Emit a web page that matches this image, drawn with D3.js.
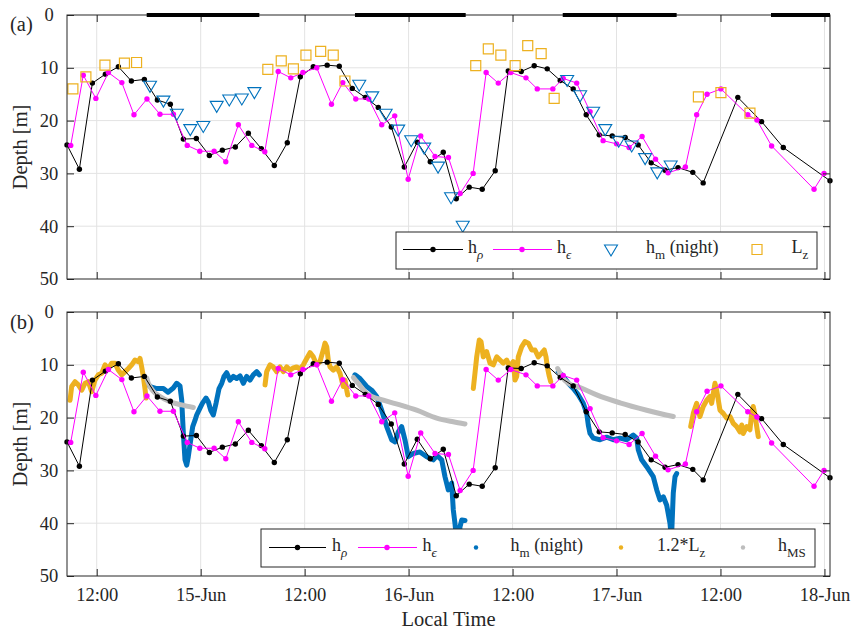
<!DOCTYPE html>
<html>
<head>
<meta charset="utf-8">
<script src="https://cdn.jsdelivr.net/npm/d3@7"></script>
<style>
  body { margin: 0; background: #fff; }
  svg text { font-family: "Liberation Serif", "Times New Roman", serif; fill: #262626; }
</style>
</head>
<body>
<svg id="chart" width="859" height="629"></svg>
<script>
// All times are hours after 14-Jun 00:00 local time; depths in metres.

// Density-based mixed-layer depth h_rho
const hRho = [[8.57,24.6],[10.0,29.2],[11.5,12.9],[13.0,11.2],[14.5,9.8],[16.0,12.5],[17.5,12.2],[19.0,16.1],[20.5,16.9],[22.0,23.5],[23.5,23.4],[25.0,26.6],[26.5,25.6],[28.0,25.0],[29.5,22.4],[31.0,25.3],[32.5,28.5],[34.0,24.2],[35.5,11.7],[37.0,9.8],[38.6,9.5],[40.0,9.7],[41.5,13.9],[43.0,15.6],[44.5,17.5],[46.0,21.2],[47.5,28.8],[49.0,24.1],[50.5,27.8],[52.0,26.0],[53.5,34.8],[55.0,32.6],[56.5,33.0],[58.0,29.5],[59.5,10.6],[61.0,10.7],[62.5,9.6],[64.0,10.2],[65.5,12.4],[67.0,14.0],[68.5,18.9],[70.0,22.7],[71.5,22.9],[73.0,23.2],[74.5,24.6],[76.0,28.0],[77.6,29.4],[79.1,28.9],[80.8,29.8],[82.0,31.8],[86.0,15.6],[88.75,20.2],[91.25,25.1],[96.64,31.4]];

// Dissipation-based depth h_epsilon
const hEps = [[9.0,24.7],[10.45,11.4],[11.9,15.8],[13.35,10.9],[14.9,12.8],[16.3,18.9],[17.8,15.9],[19.3,18.8],[20.85,18.8],[22.45,24.7],[23.9,25.8],[25.55,25.8],[26.9,27.8],[28.35,20.8],[29.9,24.7],[31.4,25.9],[32.95,10.7],[34.4,11.9],[35.8,10.9],[37.4,10.0],[39.1,16.9],[40.4,12.8],[41.9,15.9],[43.4,15.9],[44.9,20.8],[46.4,19.1],[47.95,31.1],[49.4,22.9],[51.05,26.8],[52.6,27.0],[53.95,33.8],[55.45,30.0],[56.95,10.9],[58.35,12.9],[59.8,10.9],[61.55,11.9],[62.85,14.0],[64.65,14.0],[65.85,12.0],[67.4,12.9],[68.95,18.3],[70.45,23.8],[72.0,24.4],[73.45,25.1],[74.95,23.0],[76.5,27.3],[77.95,29.9],[79.95,28.8],[81.25,18.9],[82.45,15.0],[84.05,14.0],[87.15,18.9],[88.2,19.9],[89.9,24.8],[94.8,33.0],[95.95,30.0]];

// Night-time mixing depth h_m, binned (panel a)
const hmBinned = [[18.15,13.6],[19.7,16.4],[21.25,18.9],[22.8,21.8],[24.3,21.2],[25.85,17.4],[27.3,16.2],[28.75,16.0],[30.2,14.8],
  [42.3,13.4],[43.8,15.6],[45.35,18.9],[46.8,21.9],[48.3,23.9],[49.8,25.3],[51.4,28.9],[52.9,34.7],[54.25,40.1],
  [66.3,12.5],[67.8,15.4],[69.3,18.5],[70.7,21.8],[72.25,24.0],[73.75,24.9],[75.3,27.3],[76.7,30.0],[78.25,28.7]];

// Ozmidov-type length scale L_z, binned (panel a)
const lzBinned = [[9.25,14.0],[10.75,11.7],[12.95,9.5],[15.2,9.1],[16.6,9.0],
  [31.75,10.3],[33.3,8.7],[34.7,10.2],[36.15,7.6],[37.85,6.9],[39.3,7.6],[40.65,12.5],
  [55.75,9.6],[57.2,6.4],[58.65,7.6],[60.3,9.6],[61.75,5.8],[63.3,7.3],[64.8,15.8],
  [81.45,15.5],[84.05,14.7],[87.4,18.6]];

// Continuous h_m during each night (panel b)
const hmNight1 = [[17.77,13.5],[18.27,14.2],[18.93,14.5],[19.69,14.5],[20.23,15.2],[20.84,14.4],[21.23,13.5],[21.61,14.0],[21.81,16.7],[22.0,23.0],[22.19,28.0],[22.39,29.0],[22.57,27.4],[22.85,24.2],[23.08,21.7],[23.35,20.5],[23.54,19.5],[23.92,18.2],[24.19,17.3],[24.62,16.3],[24.88,17.0],[25.16,18.6],[25.46,19.5],[25.77,17.3],[26.12,14.5],[26.43,13.5],[26.69,12.2],[27.0,11.5],[27.39,12.9],[27.77,12.2],[28.16,12.6],[28.54,12.1],[28.92,13.5],[29.31,12.2],[29.69,12.9],[30.07,11.9],[30.47,11.3],[30.77,11.9]];
const hmNight2 = [[41.81,11.9],[42.39,12.6],[43.16,14.1],[43.74,14.8],[44.32,16.0],[44.89,18.6],[45.47,21.7],[46.05,24.2],[46.43,24.6],[46.81,22.7],[47.2,21.7],[47.58,24.2],[47.96,27.4],[48.54,26.8],[49.31,26.5],[50.09,27.4],[50.85,28.0],[51.28,27.2],[51.82,28.0],[52.2,31.2],[52.58,33.7],[52.97,32.4],[53.16,37.5],[53.35,40.0],[53.59,44.0],[53.82,43.0],[53.93,40.7],[54.13,39.4],[54.51,39.5]];
const hmNight3 = [[65.28,11.3],[65.86,12.2],[66.43,13.5],[67.01,14.5],[67.59,15.7],[68.16,17.3],[68.56,19.2],[68.74,21.4],[68.94,23.0],[69.32,23.9],[70.09,24.2],[70.86,23.7],[71.63,24.2],[72.4,23.9],[73.17,24.2],[73.93,23.3],[74.33,23.9],[74.51,26.1],[74.9,28.0],[75.48,29.3],[76.24,31.2],[76.64,33.7],[77.02,35.6],[77.4,35.0],[77.79,36.6],[78.17,40.0],[78.34,43.0],[78.55,34.3],[78.75,31.2],[78.94,30.6]];

// Continuous 1.2*L_z during each day (panel b)
const lzDay1 = [[8.92,16.7],[9.11,14.1],[9.5,13.2],[9.88,13.8],[10.27,14.8],[10.65,13.5],[11.03,13.2],[11.42,15.1],[11.8,12.9],[12.18,11.9],[12.58,11.6],[12.96,10.0],[13.34,10.7],[13.73,9.7],[14.11,9.7],[14.49,11.0],[14.89,11.9],[15.27,11.3],[15.65,10.7],[16.04,10.0],[16.42,9.1],[16.8,9.4],[17.0,8.8],[17.19,10.4],[17.38,12.2],[17.57,14.5],[17.69,16.3]];
const lzDay2 = [[31.43,13.8],[31.62,11.3],[32.0,10.0],[32.38,10.4],[32.78,11.3],[33.16,10.4],[33.54,11.3],[33.93,10.4],[34.31,11.0],[34.69,10.6],[35.08,10.4],[35.46,10.8],[35.85,10.0],[36.24,8.8],[36.62,7.7],[37.0,8.5],[37.39,10.0],[37.77,9.4],[38.15,7.2],[38.35,5.9],[38.55,6.6],[38.73,9.1],[38.93,10.4],[39.31,11.0],[39.7,10.4],[40.08,11.6],[40.28,12.9],[40.46,14.1],[40.66,12.9],[40.86,14.8],[40.97,15.7]];
const lzDay3 = [[55.47,14.5],[55.66,11.6],[55.86,8.5],[56.16,5.3],[56.36,5.6],[56.62,8.5],[57.01,7.5],[57.4,9.7],[57.78,10.0],[58.17,8.5],[58.55,9.1],[58.93,9.7],[59.32,9.1],[59.7,10.4],[60.08,9.4],[60.28,12.9],[60.48,12.2],[60.66,8.5],[61.05,6.6],[61.43,5.6],[61.82,5.9],[62.21,7.2],[62.59,7.2],[62.97,8.5],[63.36,7.8],[63.66,7.2],[63.86,8.5],[64.01,10.4],[64.24,12.2],[64.4,13.2]];
const lzDay4 = [[80.56,21.7],[80.86,19.2],[81.25,17.3],[81.63,19.8],[82.01,17.9],[82.41,16.7],[82.79,16.0],[82.98,17.3],[83.36,13.5],[83.56,14.8],[83.75,16.7],[83.94,18.6],[84.32,19.2],[84.71,20.1],[85.1,19.8],[85.48,21.1],[85.87,21.7],[86.25,22.7],[86.45,21.4],[86.63,23.0],[87.02,21.7],[87.4,22.3],[87.6,19.2],[87.78,17.9],[87.98,19.5],[88.18,21.7],[88.36,23.6]];

// Monin-Obukhov / surface-forcing depth h_MS for each night (panel b)
const hmsNight1 = [[17.77,12.5],[17.92,13.3],[18.53,15.0],[19.31,16.0],[20.46,17.0],[21.81,17.6],[23.15,18.1]];
const hmsNight2 = [[41.62,12.4],[42.19,13.5],[43.16,15.4],[45.08,16.7],[47.01,17.6],[48.93,18.6],[51.24,20.1],[53.16,20.8],[54.51,21.2]];
const hmsNight3 = [[65.21,10.7],[65.67,12.2],[66.43,13.5],[67.78,14.3],[69.71,15.7],[72.4,17.2],[75.48,18.6],[78.55,19.8]];

// Night periods (sunset, sunrise)
const nightStart = [17.77, 41.81, 65.79, 89.83];
const nightEnd   = [30.77, 54.59, 78.94, 96.64];

// Axis ticks
const xTickHours  = [12, 24, 36, 48, 60, 72, 84, 96];
const xTickLabels = ["12:00", "15-Jun", "12:00", "16-Jun", "12:00", "17-Jun", "12:00", "18-Jun"];
const yTicks = [0, 10, 20, 30, 40, 50];

const COLORS = { rho: "#000000", eps: "#ff00ff", hm: "#0072bd", lz: "#edb120", hms: "#bdbdbd", axis: "#262626", grid: "#e3e3e3" };

const BASE = new Date(2019, 5, 14, 0, 0, 0);
const toDate = h => new Date(BASE.getTime() + h * 3600000);

const svg = d3.select("#chart");
const L = 67, R = 830;
const x = d3.scaleTime().domain(d3.extent(hRho, d => toDate(d[0]))).range([L, R]);

const panels = [
  { id: "a", top: 15, bottom: 279, label: "(a)", labelY: 31 },
  { id: "b", top: 312, bottom: 576, label: "(b)", labelY: 329 }
];

panels.forEach(p => {
  p.y = d3.scaleLinear().domain([0, 50]).range([p.top, p.bottom]);
  p.g = svg.append("g").attr("class", "panel-" + p.id);
  // grid
  const grid = p.g.append("g").attr("class", "grid");
  grid.selectAll("line.gx").data(xTickHours).join("line")
    .attr("x1", d => x(toDate(d))).attr("x2", d => x(toDate(d)))
    .attr("y1", p.top).attr("y2", p.bottom)
    .attr("stroke", COLORS.grid).attr("stroke-width", 1);
  grid.selectAll("line.gy").data(yTicks.slice(1, -1)).join("line")
    .attr("x1", L).attr("x2", R)
    .attr("y1", d => p.y(d)).attr("y2", d => p.y(d))
    .attr("stroke", COLORS.grid).attr("stroke-width", 1);
  p.data = p.g.append("g").attr("class", "data");
});

const lineGen = y => d3.line().x(d => x(toDate(d[0]))).y(d => y(d[1]));
const smoothGen = y => d3.line().curve(d3.curveMonotoneX).x(d => x(toDate(d[0]))).y(d => y(d[1]));

function drawProfile(g, y, data, color) {
  g.append("path").datum(data).attr("d", lineGen(y))
    .attr("fill", "none").attr("stroke", color).attr("stroke-width", 1);
  g.append("g").selectAll("circle").data(data).join("circle")
    .attr("cx", d => x(toDate(d[0]))).attr("cy", d => y(d[1]))
    .attr("r", 2.7).attr("fill", color);
}

const triPath = "M-6.5,-5.5L6.5,-5.5L0,5.5Z";
const sqPath = "M-5,-5L5,-5L5,5L-5,5Z";

// ---- Panel (a)
{
  const p = panels[0], g = p.data, y = p.y;
  drawProfile(g, y, hRho, COLORS.rho);
  drawProfile(g, y, hEps, COLORS.eps);
  g.append("g").selectAll("path").data(hmBinned).join("path")
    .attr("d", triPath)
    .attr("transform", d => `translate(${x(toDate(d[0]))},${y(d[1])})`)
    .attr("fill", "none").attr("stroke", COLORS.hm).attr("stroke-width", 1.1);
  g.append("g").selectAll("path").data(lzBinned).join("path")
    .attr("d", sqPath)
    .attr("transform", d => `translate(${x(toDate(d[0]))},${y(d[1])})`)
    .attr("fill", "none").attr("stroke", COLORS.lz).attr("stroke-width", 1.2);
}

// ---- Panel (b)
{
  const p = panels[1], g = p.data, y = p.y;
  const thick = (data, color, gen) => g.append("path").datum(data).attr("d", gen(y))
    .attr("fill", "none").attr("stroke", color).attr("stroke-width", 5)
    .attr("stroke-linejoin", "round").attr("stroke-linecap", "round");
  [hmNight1, hmNight2, hmNight3].forEach(s => thick(s, COLORS.hm, lineGen));
  [lzDay1, lzDay2, lzDay3, lzDay4].forEach(s => thick(s, COLORS.lz, lineGen));
  [hmsNight1, hmsNight2, hmsNight3].forEach(s => thick(s, COLORS.hms, smoothGen));
  drawProfile(g, y, hRho, COLORS.rho);
  drawProfile(g, y, hEps, COLORS.eps);
}

// ---- Axes, box, labels
panels.forEach((p, i) => {
  const ag = p.g.append("g").attr("class", "axes").attr("font-family", "Liberation Serif, serif");
  const bottom = ag.append("g").attr("transform", `translate(0,${p.bottom})`)
    .call(d3.axisBottom(x).tickValues(xTickHours.map(toDate)).tickSizeInner(-7).tickSizeOuter(0)
      .tickFormat((d, k) => i === 1 ? xTickLabels[k] : ""));
  bottom.selectAll("text").attr("y", 25).attr("dy", null).style("font-size", "18.5px").attr("fill", "#262626");
  const top = ag.append("g").attr("transform", `translate(0,${p.top})`)
    .call(d3.axisTop(x).tickValues(xTickHours.map(toDate)).tickSizeInner(-7).tickSizeOuter(0).tickFormat(""));
  const left = ag.append("g").attr("transform", `translate(${L},0)`)
    .call(d3.axisLeft(p.y).tickValues(yTicks).tickSizeInner(-7).tickSizeOuter(0));
  left.selectAll("text").attr("x", -18).attr("text-anchor", "middle").style("font-size", "18.5px").attr("fill", "#262626");
  const right = ag.append("g").attr("transform", `translate(${R},0)`)
    .call(d3.axisRight(p.y).tickValues(yTicks).tickSizeInner(-7).tickSizeOuter(0).tickFormat(""));
  ag.selectAll(".domain").remove();
  ag.selectAll(".tick line").attr("stroke", COLORS.axis);
  ag.append("rect").attr("x", L).attr("y", p.top).attr("width", R - L).attr("height", p.bottom - p.top)
    .attr("fill", "none").attr("stroke", COLORS.axis).attr("stroke-width", 1);
  svg.append("text").attr("x", 10).attr("y", p.labelY).style("font-size", "20.5px").text(p.label);
  svg.append("text").attr("transform", `translate(27,${(p.top + p.bottom) / 2}) rotate(-90)`)
    .attr("text-anchor", "middle").style("font-size", "20.5px").text("Depth [m]");
});

// Night bars along the top of panel (a)
svg.append("g").selectAll("line").data(nightStart).join("line")
  .attr("x1", (d) => x(toDate(d))).attr("x2", (d, k) => x(toDate(nightEnd[k])))
  .attr("y1", panels[0].top).attr("y2", panels[0].top)
  .attr("stroke", "#000").attr("stroke-width", 4);

svg.append("text").attr("x", (L + R) / 2).attr("y", 626).attr("text-anchor", "middle")
  .style("font-size", "20.5px").text("Local Time");

// ---- Legends
function legendText(g, xPos, yPos, main, sub, rest, italicSub) {
  const t = g.append("text").attr("x", xPos).attr("y", yPos).style("font-size", "18px");
  t.append("tspan").text(main);
  t.append("tspan").attr("dy", 6).style("font-size", "13px")
    .style("font-style", italicSub ? "italic" : "normal").text(sub);
  if (rest) t.append("tspan").attr("dy", -6).text(rest);
}

{
  const g = svg.append("g");
  const cy = 249.5, ty = 253;
  g.append("rect").attr("x", 396).attr("y", 232).attr("width", 421).attr("height", 37)
    .attr("fill", "#fff").attr("stroke", COLORS.axis).attr("stroke-width", 1);
  g.append("line").attr("x1", 403).attr("x2", 463).attr("y1", cy).attr("y2", cy).attr("stroke", COLORS.rho);
  g.append("circle").attr("cx", 433).attr("cy", cy).attr("r", 2.7).attr("fill", COLORS.rho);
  legendText(g, 468, ty, "h", "ρ", null, true);
  g.append("line").attr("x1", 493).attr("x2", 552).attr("y1", cy).attr("y2", cy).attr("stroke", COLORS.eps);
  g.append("circle").attr("cx", 522).attr("cy", cy).attr("r", 2.7).attr("fill", COLORS.eps);
  legendText(g, 557, ty, "h", "ϵ", null, true);
  g.append("path").attr("d", triPath).attr("transform", `translate(611,${cy + 1})`)
    .attr("fill", "none").attr("stroke", COLORS.hm).attr("stroke-width", 1.1);
  legendText(g, 646, ty, "h", "m", " (night)", false);
  g.append("path").attr("d", sqPath).attr("transform", `translate(757,${cy})`)
    .attr("fill", "none").attr("stroke", COLORS.lz).attr("stroke-width", 1.2);
  legendText(g, 791.5, ty, "L", "z", null, false);
}
{
  const g = svg.append("g");
  const cy = 547.5, ty = 551;
  g.append("rect").attr("x", 261).attr("y", 529).attr("width", 554).attr("height", 38)
    .attr("fill", "#fff").attr("stroke", COLORS.axis).attr("stroke-width", 1);
  g.append("line").attr("x1", 269).attr("x2", 326).attr("y1", cy).attr("y2", cy).attr("stroke", COLORS.rho);
  g.append("circle").attr("cx", 297.5).attr("cy", cy).attr("r", 2.7).attr("fill", COLORS.rho);
  legendText(g, 332, ty, "h", "ρ", null, true);
  g.append("line").attr("x1", 358).attr("x2", 417).attr("y1", cy).attr("y2", cy).attr("stroke", COLORS.eps);
  g.append("circle").attr("cx", 387).attr("cy", cy).attr("r", 2.7).attr("fill", COLORS.eps);
  legendText(g, 422.5, ty, "h", "ϵ", null, true);
  g.append("circle").attr("cx", 476).attr("cy", cy).attr("r", 2.2).attr("fill", COLORS.hm);
  legendText(g, 510.5, ty, "h", "m", " (night)", false);
  g.append("circle").attr("cx", 621).attr("cy", cy).attr("r", 2.2).attr("fill", COLORS.lz);
  legendText(g, 657, ty, "1.2*L", "z", null, false);
  g.append("circle").attr("cx", 743).attr("cy", cy).attr("r", 2.2).attr("fill", COLORS.hms);
  legendText(g, 778, ty, "h", "MS", null, false);
}
</script>
</body>
</html>
